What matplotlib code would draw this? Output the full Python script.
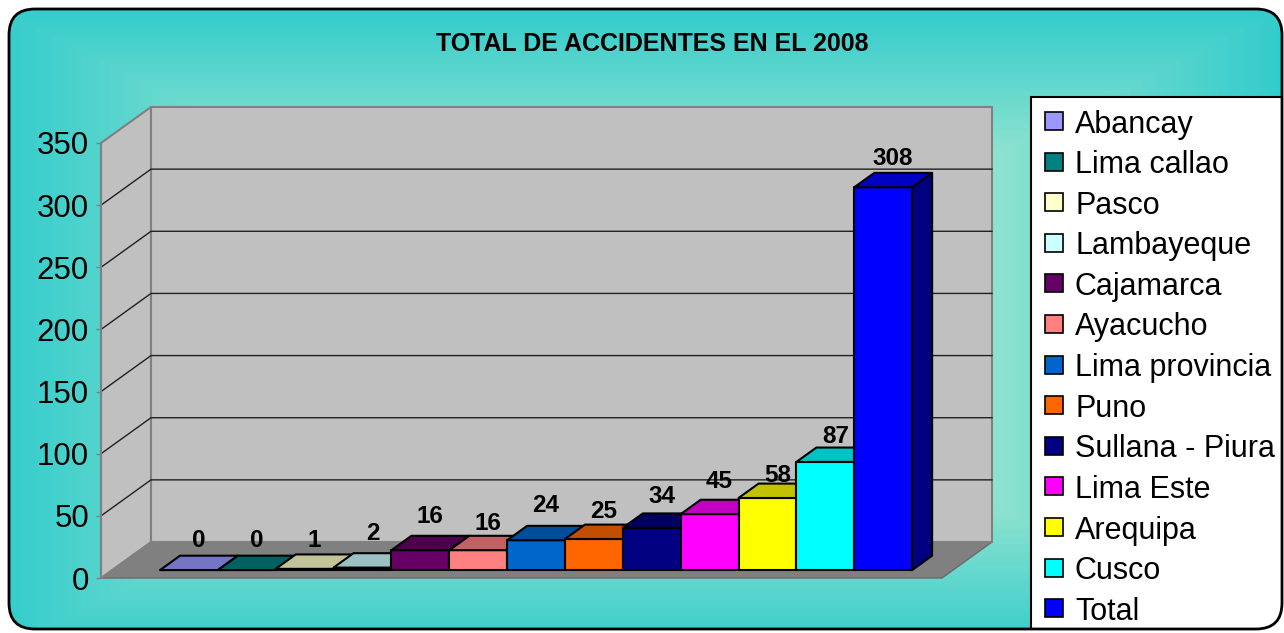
import numpy as np
import matplotlib
matplotlib.use("Agg")
import matplotlib.pyplot as plt
from matplotlib.patches import Polygon, Rectangle, FancyBboxPatch
from matplotlib.colors import to_rgb

# ---------------- data ----------------
categories = ["Abancay", "Lima callao", "Pasco", "Lambayeque", "Cajamarca", "Ayacucho",
              "Lima provincia", "Puno", "Sullana - Piura", "Lima Este", "Arequipa",
              "Cusco", "Total"]
values = [0, 0, 1, 2, 16, 16, 24, 25, 34, 45, 58, 87, 308]
colors = ["#9999FF", "#008080", "#FFFFCC", "#CCFFFF", "#660066", "#FF8080", "#0066CC",
          "#FF6600", "#000080", "#FF00FF", "#FFFF00", "#00FFFF", "#0000FF"]
y_ticks = [0, 50, 100, 150, 200, 250, 300, 350]
title = "TOTAL DE ACCIDENTES EN EL 2008"

# label placement tweaks (pixels, layout only)
label_nudge_px = [0, 0, -1, 4, 4, -3, 5, -2, 1.5, 3, -7, -4, -1]

plt.rcParams['font.family'] = ['Liberation Sans', 'DejaVu Sans']

W, H = 1284, 633
fig = plt.figure(figsize=(W / 100, H / 100), dpi=100)

# ---------------- background with rounded frame ----------------
bg = fig.add_axes([0, 0, 1, 1])
bg.set_xlim(0, W)
bg.set_ylim(H, 0)
bg.axis('off')

frame = FancyBboxPatch((9, 9), 1273, 620, boxstyle="round,pad=0,rounding_size=26",
                       facecolor='none', edgecolor='none', transform=bg.transData)
bg.add_patch(frame)

yy, xx = np.mgrid[0:H, 0:W]
t = np.maximum(np.abs(xx - 640) / 640.0, np.abs(yy - 330) / 320.0)
t = np.clip(t, 0, 1)[..., None]
teal = np.array([51, 204, 204]) / 255.0
light = np.array([255, 255, 210]) / 255.0
img = light * (1 - t) + teal * t
im = bg.imshow(img, extent=(0, W, H, 0), interpolation='bilinear', zorder=0)
im.set_clip_path(frame)

# title
bg.text(652, 44, title, ha='center', va='center', fontsize=18, fontweight='bold',
        color='black', zorder=5)

# ---------------- legend (Excel style) ----------------
leg_box = Rectangle((1031, 97), 270, 560, facecolor='white', edgecolor='black',
                    linewidth=1.5, zorder=5)
bg.add_patch(leg_box)
leg_box.set_clip_path(frame)
for k, (name, c) in enumerate(zip(categories, colors)):
    yc = 121 + k * 40.6
    bg.add_patch(Rectangle((1045, yc - 9), 18, 18, facecolor=c, edgecolor='black',
                           linewidth=1.2, zorder=6))
    bg.text(1075, yc, name, ha='left', va='center_baseline', fontsize=22,
            color='black', zorder=6)

# frame outline on top
bg.add_patch(FancyBboxPatch((9, 9), 1273, 620, boxstyle="round,pad=0,rounding_size=26",
                            facecolor='none', edgecolor='black', linewidth=2, zorder=10))

# ---------------- 3D-style plot area ----------------
ax = fig.add_axes([101 / W, (H - 578) / H, 841 / W, 435 / H])
xmin, xmax = -0.5 - 0.83, len(values) - 0.5 + 0.707
ymax = 350
ax.set_xlim(xmin, xmax)
ax.set_ylim(0, ymax)
ax.patch.set_alpha(0)
for s in ['top', 'right', 'bottom']:
    ax.spines[s].set_visible(False)
ax.spines['left'].set_color('#808080')
ax.spines['left'].set_linewidth(1.5)
ax.set_xticks([])
ax.set_yticks(y_ticks)
ax.tick_params(axis='y', length=3.6, width=1, color='#808080', pad=5, labelsize=22.5,
               labelcolor='black')

ppx = 841 / (xmax - xmin)
ppy = 435 / ymax
DX = 50 / ppx
DY = 36 / ppy


def P(x, y, z):
    return (x + z * DX, y + z * DY)


wall_c = '#C0C0C0'
edge_c = '#808080'
# floor
ax.add_patch(Polygon([P(xmin, 0, 0), P(xmax, 0, 0), P(xmax, 0, 1), P(xmin, 0, 1)],
                     closed=True, facecolor='#808080', edgecolor='#6a6a6a', lw=1,
                     clip_on=False, zorder=1))
# side wall
ax.add_patch(Polygon([P(xmin, 0, 0), P(xmin, 0, 1), P(xmin, ymax, 1), P(xmin, ymax, 0)],
                     closed=True, facecolor=wall_c, edgecolor=edge_c, lw=1.5,
                     clip_on=False, zorder=1))
# back wall
ax.add_patch(Polygon([P(xmin, 0, 1), P(xmax, 0, 1), P(xmax, ymax, 1), P(xmin, ymax, 1)],
                     closed=True, facecolor=wall_c, edgecolor=edge_c, lw=1.5,
                     clip_on=False, zorder=1))
# gridlines
for v in y_ticks[1:-1]:
    pts = [P(xmin, v, 0), P(xmin, v, 1), P(xmax, v, 1)]
    ax.plot([p[0] for p in pts], [p[1] for p in pts], color='#202020', lw=1,
            clip_on=False, zorder=2)

# bars
zf, zb = 0.22, 0.62
zm = (zf + zb) / 2
for i, (v, c) in enumerate(zip(values, colors)):
    rgb = np.array(to_rgb(c))
    top_c = rgb * 0.76
    side_c = rgb * 0.5
    x0, x1 = i - 0.5, i + 0.5
    zo = 3 + i
    # side face
    ax.add_patch(Polygon([P(x1, 0, zf), P(x1, 0, zb), P(x1, v, zb), P(x1, v, zf)],
                         closed=True, facecolor=side_c, edgecolor='black', lw=1.5,
                         clip_on=False, zorder=zo, joinstyle='round'))
    # front face
    ax.add_patch(Polygon([P(x0, 0, zf), P(x1, 0, zf), P(x1, v, zf), P(x0, v, zf)],
                         closed=True, facecolor=c, edgecolor='black', lw=1.5,
                         clip_on=False, zorder=zo + 0.1, joinstyle='round'))
    # top face
    ax.add_patch(Polygon([P(x0, v, zf), P(x1, v, zf), P(x1, v, zb), P(x0, v, zb)],
                         closed=True, facecolor=top_c, edgecolor='black', lw=1.5,
                         clip_on=False, zorder=zo + 0.2, joinstyle='round'))
    lx, ly = P(i, v, zm)
    off_pt = (16 + label_nudge_px[i]) * 72 / 100
    ax.annotate(str(v), (lx, ly), xytext=(0, off_pt), textcoords='offset points',
                ha='center', va='baseline', fontsize=17.5, fontweight='bold',
                color='black', annotation_clip=False, zorder=30)

fig.savefig("out.png", dpi=100)
